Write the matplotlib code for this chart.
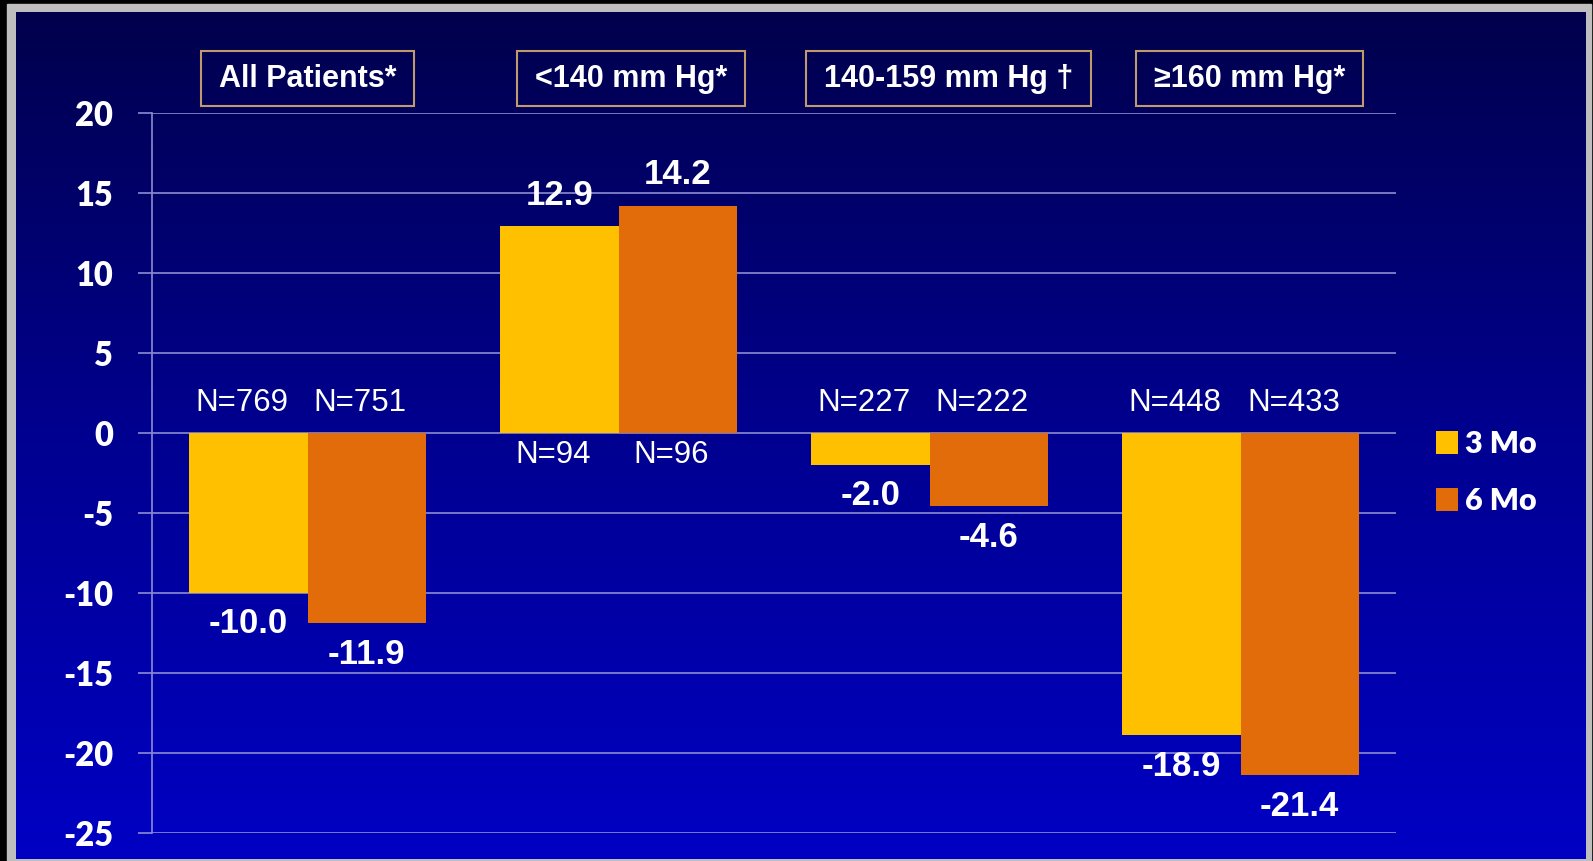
import numpy as np
import matplotlib
matplotlib.use("Agg")
import matplotlib.pyplot as plt
from matplotlib.patches import Rectangle
from matplotlib.colors import LinearSegmentedColormap

# данные: изменение по подгруппам, 3 и 6 месяцев
groups = ["All Patients*", "<140 mm Hg*", "140-159 mm Hg \u2020", "\u2265160 mm Hg*"]
series_names = ["3 Mo", "6 Mo"]
values_3mo = [-10.0, 12.9, -2.0, -18.9]
values_6mo = [-11.9, 14.2, -4.6, -21.4]
n_3mo = [769, 94, 227, 448]
n_6mo = [751, 96, 222, 433]
y_ticks = [20, 15, 10, 5, 0, -5, -10, -15, -20, -25]

W, H, DPI = 1593, 861, 100
bar_colors = ["#FFC000", "#E36C0A"]
grid_color = "#8C8CD2"
box_edge = "#C09A6B"
arial = ["Liberation Sans", "DejaVu Sans"]
calibri = ["Lato", "DejaVu Sans"]
# небольшой сдвиг заголовков вправо (в долях категории)
header_dx = [0.0, 0.04, 0.06, 0.03]

fig = plt.figure(figsize=(W / DPI, H / DPI), dpi=DPI)
fig.patch.set_facecolor("black")

# фон: серая рамка и вертикальный градиент от тёмно-синего к синему
frame = fig.add_axes([0, 0, 1, 1], zorder=-2)
frame.set_xlim(0, W)
frame.set_ylim(H, 0)
frame.axis("off")
frame.add_patch(Rectangle((7, 4), 1584, 860, color="#BEBEBE"))
grad = LinearSegmentedColormap.from_list("bg", ["#00004C", "#000090", "#0000C4"])
frame.imshow(np.linspace(0, 1, 256).reshape(-1, 1), cmap=grad, aspect="auto",
             extent=(16, 1586, 859, 12), zorder=1)

left, right, top, bottom = 152, 1396, 112.7, 832.7
ax = fig.add_axes([left / W, 1 - bottom / H, (right - left) / W, (bottom - top) / H])
ax.set_facecolor("none")

x = np.arange(len(groups))
bw = 0.38
bars3 = ax.bar(x - bw / 2, values_3mo, bw, color=bar_colors[0], label=series_names[0], zorder=3)
bars6 = ax.bar(x + bw / 2, values_6mo, bw, color=bar_colors[1], label=series_names[1], zorder=3)

ax.set_xlim(-0.5, len(groups) - 0.5)
ax.set_ylim(-25, 20)
ax.set_yticks(y_ticks)
ax.set_yticklabels([str(t) for t in y_ticks], fontfamily=calibri, fontweight="heavy",
                   fontsize=23.5, color="white")
ax.set_xticks([])
ax.yaxis.grid(True, color=grid_color, lw=1.2, zorder=1)
ax.tick_params(axis="y", length=10, width=1.2, color=grid_color, pad=18)
for side in ["top", "right", "bottom"]:
    ax.spines[side].set_visible(False)
ax.spines["left"].set_color(grid_color)
ax.spines["left"].set_linewidth(1.2)

# подписи значений и численности
for bars, vals, ns in [(bars3, values_3mo, n_3mo), (bars6, values_6mo, n_6mo)]:
    for b, v, n in zip(bars, vals, ns):
        cx = b.get_x() + b.get_width() / 2
        sign = 1 if v > 0 else -1
        ax.annotate(f"{v:.1f}", (cx, v), xytext=(0, 22.5 * sign), textcoords="offset points",
                    ha="center", va="center", fontsize=25, fontweight="bold",
                    fontfamily=arial, color="white", zorder=5)
        ax.annotate(f"N={n}", (cx - 0.02, 0), xytext=(0, -16 if sign > 0 else 21.6),
                    textcoords="offset points", ha="center", va="center",
                    fontsize=22.5, fontfamily=arial, color="white", zorder=5)

# заголовки подгрупп в рамках
headers = []
for xi, dx, g in zip(x, header_dx, groups):
    t = ax.text(xi + dx, 1.047, g, transform=ax.get_xaxis_transform(), ha="center", va="center",
                fontsize=22, fontweight="bold", fontfamily=arial, color="white", zorder=6)
    headers.append(t)

leg = ax.legend(loc="center left", bbox_to_anchor=(1.0, 0.5), frameon=False,
                prop={"family": calibri, "weight": "heavy", "size": 22},
                handlelength=0.72, handleheight=0.75, handletextpad=0.25,
                labelspacing=0.95, borderaxespad=0.9, labelcolor="white")

fig.canvas.draw()
renderer = fig.canvas.get_renderer()
for t in headers:
    bb = t.get_window_extent(renderer)
    cy = (bb.y0 + bb.y1) / 2
    x0, x1 = bb.x0 - 18, bb.x1 + 18
    y0, y1 = cy - 27.5, cy + 27.5
    fig.add_artist(Rectangle((x0 / W, y0 / H), (x1 - x0) / W, (y1 - y0) / H,
                             transform=fig.transFigure, fill=False,
                             edgecolor=box_edge, lw=1.5, zorder=4))

fig.savefig("out.png", dpi=DPI, facecolor=fig.get_facecolor())
